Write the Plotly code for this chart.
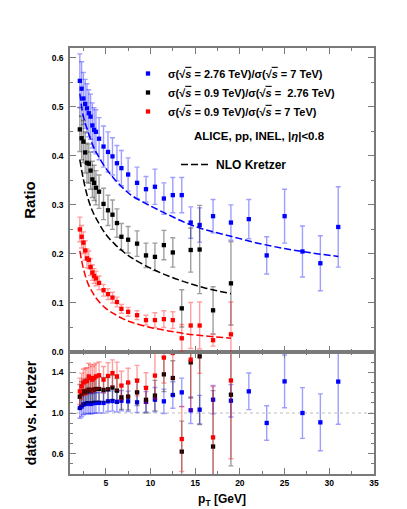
import plotly.graph_objects as go

# ---------------- data ----------------
pt = [2.1, 2.3, 2.5, 2.7, 2.9, 3.1, 3.3, 3.5, 3.7, 3.9, 4.25, 4.75, 5.25, 5.75,
      6.25, 6.75, 7.5, 8.5, 9.5, 10.5, 11.5, 12.5, 13.5, 14.5, 15.5, 17, 19]
pt_blue = pt + [21, 23, 25, 27, 29, 31]

# sigma(2.76)/sigma(7)
blue_val = [0.553, 0.537, 0.517, 0.506, 0.497, 0.487, 0.480, 0.462, 0.453, 0.449, 0.435, 0.419,
            0.408, 0.399, 0.385, 0.375, 0.362, 0.345, 0.332, 0.337, 0.313, 0.320, 0.320, 0.264,
            0.259, 0.277, 0.264, 0.271, 0.197, 0.277, 0.205, 0.181, 0.255]
blue_err = [0.055, 0.055, 0.053, 0.050, 0.050, 0.048, 0.046, 0.046, 0.045, 0.045, 0.043, 0.042,
            0.041, 0.038, 0.036, 0.036, 0.034, 0.032, 0.026, 0.036, 0.032, 0.036, 0.036, 0.032,
            0.035, 0.034, 0.036, 0.040, 0.038, 0.055, 0.052, 0.056, 0.082]
# sigma(0.9)/sigma(2.76)
black_val = [0.454, 0.436, 0.429, 0.407, 0.386, 0.384, 0.370, 0.352, 0.345, 0.335, 0.327, 0.302,
             0.289, 0.280, 0.263, 0.235, 0.229, 0.221, 0.197, 0.194, 0.218, 0.203, 0.089, 0.208,
             0.209, 0.085, 0.140]
black_err = [0.045, 0.044, 0.043, 0.042, 0.040, 0.040, 0.038, 0.037, 0.036, 0.035, 0.034, 0.032,
             0.031, 0.030, 0.029, 0.027, 0.027, 0.026, 0.025, 0.028, 0.030, 0.030, 0.038, 0.045,
             0.090, 0.048, 0.085]
# sigma(0.9)/sigma(7)
red_val = [0.250, 0.235, 0.223, 0.207, 0.191, 0.188, 0.173, 0.162, 0.155, 0.150, 0.141, 0.126,
           0.118, 0.111, 0.102, 0.088, 0.082, 0.075, 0.065, 0.065, 0.067, 0.065, 0.028, 0.054,
           0.054, 0.024, 0.036]
red_err = [0.025, 0.023, 0.022, 0.020, 0.019, 0.018, 0.017, 0.016, 0.015, 0.015, 0.014, 0.012,
           0.011, 0.011, 0.010, 0.009, 0.009, 0.009, 0.010, 0.015, 0.017, 0.017, 0.028, 0.047,
           0.048, 0.012, 0.066]

# NLO Kretzer curves
kr_pt_blue = [2.1, 2.5, 3, 3.5, 4, 5, 6, 7, 8, 10, 12, 14, 16, 19, 22, 25, 28, 31]
kr_blue = [0.527, 0.480, 0.450, 0.424, 0.405, 0.375, 0.352, 0.333, 0.318, 0.298, 0.280, 0.263,
           0.250, 0.236, 0.222, 0.211, 0.202, 0.195]
kr_pt = [2.1, 2.5, 3, 3.5, 4, 5, 6, 7, 8, 10, 12, 14, 16, 19]
kr_black = [0.392, 0.352, 0.314, 0.288, 0.270, 0.240, 0.220, 0.204, 0.191, 0.171, 0.155, 0.142,
            0.131, 0.119]
kr_red = [0.206, 0.170, 0.140, 0.122, 0.108, 0.089, 0.077, 0.067, 0.060, 0.050, 0.043, 0.037,
          0.033, 0.028]

# data / Kretzer
blue_ratio = [1.049, 1.063, 1.083, 1.089, 1.095, 1.095, 1.089, 1.095, 1.099, 1.099, 1.100, 1.099,
              1.115, 1.118, 1.110, 1.121, 1.115, 1.105, 1.110, 1.131, 1.115, 1.177, 1.203, 1.027,
              1.033, 1.131, 1.121, 1.213, 0.902, 1.311, 1.000, 0.908, 1.309]
blue_ratio_err = [0.10, 0.10, 0.10, 0.10, 0.10, 0.10, 0.10, 0.10, 0.10, 0.10, 0.10, 0.10, 0.10,
                  0.10, 0.10, 0.10, 0.10, 0.10, 0.10, 0.12, 0.12, 0.13, 0.14, 0.13, 0.14, 0.14,
                  0.16, 0.18, 0.17, 0.26, 0.25, 0.28, 0.42]
black_ratio = [1.161, 1.187, 1.213, 1.200, 1.220, 1.230, 1.220, 1.227, 1.230, 1.236, 1.236, 1.227,
               1.233, 1.250, 1.220, 1.154, 1.161, 1.203, 1.130, 1.171, 1.380, 1.344, 0.620, 1.498,
               1.557, 0.670, 1.180]
black_ratio_err = [0.12, 0.12, 0.12, 0.12, 0.12, 0.12, 0.12, 0.12, 0.12, 0.12, 0.12, 0.12, 0.12,
                   0.12, 0.12, 0.12, 0.13, 0.13, 0.13, 0.15, 0.17, 0.17, 0.30, 0.35, 0.67, 0.55,
                   0.70]
red_ratio = [1.213, 1.262, 1.300, 1.310, 1.315, 1.360, 1.344, 1.328, 1.344, 1.360, 1.371, 1.328,
             1.364, 1.393, 1.360, 1.270, 1.300, 1.318, 1.246, 1.368, 1.545, 1.590, 0.744, 1.525,
             1.690, 0.760, 1.320]
red_ratio_err = [0.13, 0.13, 0.13, 0.13, 0.13, 0.13, 0.13, 0.13, 0.13, 0.13, 0.13, 0.13, 0.13,
                 0.13, 0.14, 0.14, 0.14, 0.15, 0.15, 0.23, 0.25, 0.25, 0.32, 0.50, 0.30, 0.50,
                 0.77]

labels = [
    "σ(√<span style='text-decoration:overline'><i>s</i></span> = 2.76 TeV)/σ(√<span style='text-decoration:overline'><i>s</i></span> = 7 TeV)",
    "σ(√<span style='text-decoration:overline'><i>s</i></span> = 0.9 TeV)/σ(√<span style='text-decoration:overline'><i>s</i></span> =  2.76 TeV)",
    "σ(√<span style='text-decoration:overline'><i>s</i></span> = 0.9 TeV)/σ(√<span style='text-decoration:overline'><i>s</i></span> = 7 TeV)",
]

# ---------------- figure ----------------
FONT = "Liberation Sans, Arial, Helvetica, sans-serif"
GRAY = "#7a7a7a"

fig = go.Figure()

series = [
    (pt_blue, blue_val, blue_err, blue_ratio, blue_ratio_err, "#0000ff", "rgba(0,0,255,0.38)", labels[0]),
    (pt, black_val, black_err, black_ratio, black_ratio_err, "#000000", "rgba(0,0,0,0.38)", labels[1]),
    (pt, red_val, red_err, red_ratio, red_ratio_err, "#ff0000", "rgba(255,0,0,0.38)", labels[2]),
]

curves = [(kr_pt_blue, kr_blue, "#0000ff"), (kr_pt, kr_black, "#000000"), (kr_pt, kr_red, "#ff0000")]

for i, (kx, ky, col) in enumerate(curves):
    fig.add_trace(go.Scatter(
        x=kx, y=ky, mode="lines", line=dict(color=col, width=1.5, dash="7px,3px", shape="spline"),
        xaxis="x2", yaxis="y", name="NLO Kretzer", legend="legend2",
        showlegend=(i == 1), hoverinfo="skip"))

for (x, v, e, r, re_, col, ecol, lab) in series:
    fig.add_trace(go.Scatter(
        x=x, y=v, mode="markers", name=lab, legend="legend",
        marker=dict(symbol="square", size=4.3, color=col),
        error_y=dict(type="data", array=e, color=ecol, thickness=1.4, width=2.5),
        xaxis="x2", yaxis="y"))
    fig.add_trace(go.Scatter(
        x=x, y=r, mode="markers", showlegend=False,
        marker=dict(symbol="square", size=4.3, color=col),
        error_y=dict(type="data", array=re_, color=ecol, thickness=1.4, width=2.5),
        xaxis="x", yaxis="y2"))

axis_common = dict(
    showline=True, linecolor=GRAY, linewidth=1.5, mirror="ticks",
    ticks="inside", ticklen=6, tickwidth=1, tickcolor=GRAY,
    showgrid=False, zeroline=False,
    tickfont=dict(family=FONT, size=8.5, color="black", weight="bold"),
)

split = 122 / 426

fig.update_layout(
    width=407, height=509, autosize=False,
    margin=dict(l=62, r=41, t=40, b=43),
    paper_bgcolor="white", plot_bgcolor="white",
    font=dict(family=FONT, color="black"),
    xaxis=dict(axis_common, range=[1, 35], dtick=5, tick0=0, anchor="y2",
               minor=dict(dtick=2.5, tick0=0, ticks="inside", ticklen=3, tickcolor=GRAY),
               title=dict(text="p<sub>T</sub> [GeV]", standoff=8,
                          font=dict(family=FONT, size=12, weight="bold"))),
    xaxis2=dict(axis_common, range=[1, 35], dtick=5, tick0=0, anchor="y", matches="x",
                showticklabels=False,
                minor=dict(dtick=2.5, tick0=0, ticks="inside", ticklen=3, tickcolor=GRAY)),
    yaxis=dict(axis_common, domain=[split, 1], range=[0, 0.62], dtick=0.1, tick0=0,
               tickformat=".1f", anchor="x2", ticklabelstandoff=3,
               minor=dict(dtick=0.05, tick0=0, ticks="inside", ticklen=3, tickcolor=GRAY),
               title=dict(text="Ratio", standoff=12,
                          font=dict(family=FONT, size=15, weight="bold"))),
    yaxis2=dict(axis_common, domain=[0, split], range=[0.4, 1.6], dtick=0.4, tick0=0.2,
                tickformat=".1f", anchor="x", ticklabelstandoff=3,
                minor=dict(dtick=0.1, tick0=0, ticks="inside", ticklen=3, tickcolor=GRAY),
                title=dict(text="data vs. Kretzer", standoff=12,
                           font=dict(family=FONT, size=14, weight="bold"))),
    legend=dict(x=(120 - 62) / 304, y=(466 - 51) / 426, xanchor="left", yanchor="top",
                bgcolor="rgba(0,0,0,0)", itemwidth=30, tracegroupgap=0,
                font=dict(family=FONT, size=11, weight="bold")),
    legend2=dict(x=(168 - 62) / 304, y=(466 - 142) / 426, xanchor="left", yanchor="top",
                 bgcolor="rgba(0,0,0,0)", itemwidth=30,
                 font=dict(family=FONT, size=12, weight="bold")),
    shapes=[dict(type="line", xref="x domain", yref="y2", x0=0, x1=1, y0=1.0, y1=1.0,
                 line=dict(color="#bdbdbd", width=1, dash="dot"), layer="below")],
    annotations=[dict(text="ALICE, pp, INEL, |<i>η</i>|&lt;0.8", xref="paper", yref="paper",
                      x=(184 - 62) / 304, y=(466 - 128) / 426, xanchor="left", yanchor="middle",
                      showarrow=False, font=dict(family=FONT, size=11.5, weight="bold"))],
)

fig.write_html("out.html")
